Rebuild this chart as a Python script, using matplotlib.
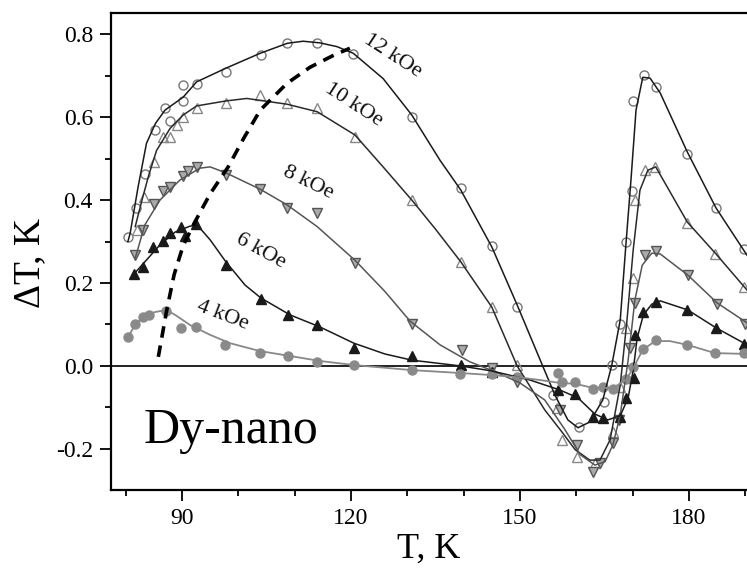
import matplotlib
matplotlib.use("Agg")
import matplotlib.pyplot as plt
from matplotlib.ticker import MultipleLocator

plt.rcParams['font.family'] = ['Liberation Serif', 'DejaVu Serif']

# measured points (markers)
t12 = [80.5, 81.8, 83.4, 85.2, 87.0, 87.8, 90.2, 90.1, 92.6, 97.8, 104.0, 108.7, 113.9, 120.4, 130.8, 139.5,
       145.0, 149.5, 155.9, 160.4, 164.9, 166.3, 167.8, 168.8, 169.8, 170.1, 172.1, 174.2, 179.7, 184.8, 189.8]
d12 = [0.310, 0.381, 0.463, 0.570, 0.621, 0.591, 0.639, 0.677, 0.681, 0.709, 0.749, 0.779, 0.779, 0.752, 0.601, 0.430,
       0.290, 0.141, -0.070, -0.148, -0.086, 0.002, 0.101, 0.300, 0.422, 0.639, 0.701, 0.672, 0.510, 0.380, 0.281]

t10 = [82.1, 83.3, 85.0, 86.7, 87.8, 89.1, 90.1, 92.6, 97.8, 103.9, 108.7, 114.0, 120.7, 130.8, 139.5, 145.0,
       149.4, 156.5, 157.4, 160.2, 163.3, 166.5, 167.8, 168.9, 170.1, 170.4, 172.2, 174.0, 179.6, 184.6, 189.7]
d10 = [0.328, 0.408, 0.492, 0.553, 0.553, 0.581, 0.601, 0.623, 0.633, 0.653, 0.633, 0.623, 0.553, 0.400, 0.251, 0.143,
       0.002, -0.102, -0.178, -0.219, -0.235, -0.160, -0.050, 0.091, 0.211, 0.400, 0.472, 0.480, 0.344, 0.270, 0.191]

t8 = [81.7, 83.1, 85.0, 86.7, 87.9, 90.2, 91.1, 92.6, 97.9, 103.9, 108.7, 114.0, 120.7, 130.8, 139.7, 145.1,
      149.5, 157.1, 160.1, 162.9, 164.2, 166.6, 167.6, 169.5, 170.4, 172.2, 174.2, 179.9, 184.9, 190.0]
d8 = [0.267, 0.329, 0.390, 0.422, 0.431, 0.459, 0.471, 0.480, 0.460, 0.426, 0.380, 0.368, 0.249, 0.101, 0.039, -0.006,
      -0.038, -0.106, -0.190, -0.255, -0.235, -0.186, -0.130, 0.043, 0.151, 0.267, 0.278, 0.219, 0.149, 0.101]

t6 = [81.4, 83.1, 84.9, 86.7, 87.9, 89.8, 90.5, 92.5, 97.8, 104.0, 108.9, 114.0, 120.6, 130.8, 139.5, 145.0,
      156.8, 159.8, 163.0, 164.7, 167.8, 168.9, 170.2, 170.4, 171.9, 174.2, 179.7, 184.8, 189.8]
d6 = [0.222, 0.239, 0.288, 0.302, 0.320, 0.334, 0.313, 0.342, 0.243, 0.161, 0.123, 0.099, 0.043, 0.024, 0.002, -0.014,
      -0.058, -0.068, -0.122, -0.126, -0.122, -0.078, -0.030, 0.075, 0.131, 0.155, 0.135, 0.091, 0.052]

t4 = [80.5, 81.7, 83.0, 84.2, 87.2, 89.8, 92.5, 97.6, 103.9, 108.8, 114.0, 120.6, 130.8, 139.4, 145.0, 149.4,
      156.8, 157.4, 159.7, 162.9, 164.7, 166.5, 168.8, 170.1, 171.9, 174.2, 179.6, 184.6, 189.7]
d4 = [0.071, 0.101, 0.119, 0.123, 0.133, 0.091, 0.093, 0.051, 0.031, 0.023, 0.010, 0.002, -0.010, -0.019, -0.019, -0.027,
      -0.018, -0.038, -0.038, -0.056, -0.051, -0.056, -0.032, -0.002, 0.040, 0.063, 0.051, 0.031, 0.031]

# fitted curves
ft12 = [80.4, 80.8, 82.2, 83.7, 85.3, 87.0, 90.2, 92.6, 97.8, 103.9, 108.7, 111.5, 114.5, 117.5, 120.4, 125.7, 130.8,
        135.8, 139.5, 145.0, 149.5, 153.6, 156.2, 158.5, 160.3, 162.4, 164.7, 166.3, 167.8, 168.8, 169.7, 170.6,
        171.8, 173.1, 174.9, 179.7, 184.8, 190.3]
fd12 = [0.300, 0.320, 0.431, 0.537, 0.585, 0.617, 0.648, 0.685, 0.718, 0.754, 0.778, 0.783, 0.779, 0.770, 0.754, 0.693,
        0.605, 0.496, 0.424, 0.287, 0.147, 0.014, -0.070, -0.130, -0.149, -0.135, -0.082, 0.002, 0.111, 0.292, 0.448,
        0.617, 0.696, 0.694, 0.658, 0.516, 0.381, 0.267]

ft10 = [81.7, 82.9, 84.1, 85.5, 87.9, 90.2, 92.6, 97.8, 101.5, 108.7, 114.0, 120.7, 125.7, 130.8, 135.0, 139.5, 145.0,
        149.5, 154.4, 157.5, 159.8, 162.4, 164.2, 166.0, 167.8, 169.0, 170.1, 171.3, 172.7, 174.1, 179.7, 184.8, 190.3]
fd10 = [0.336, 0.400, 0.460, 0.520, 0.573, 0.605, 0.627, 0.639, 0.645, 0.631, 0.613, 0.557, 0.480, 0.400, 0.330, 0.251,
        0.142, 0.000, -0.106, -0.160, -0.202, -0.227, -0.227, -0.178, -0.046, 0.111, 0.280, 0.424, 0.472, 0.480, 0.347,
        0.270, 0.183]

ft8 = [81.7, 83.4, 86.1, 89.6, 93.2, 95.0, 97.9, 103.9, 108.7, 114.0, 120.7, 126.0, 130.5, 135.8, 141.1, 145.6, 150.0,
       154.4, 158.0, 160.7, 163.3, 165.1, 166.5, 167.8, 169.2, 170.4, 171.7, 173.4, 174.9, 179.8, 185.0, 190.3]
fd8 = [0.260, 0.340, 0.400, 0.448, 0.477, 0.480, 0.465, 0.426, 0.388, 0.336, 0.255, 0.180, 0.108, 0.051, 0.010, -0.014,
       -0.041, -0.082, -0.154, -0.214, -0.239, -0.231, -0.190, -0.118, 0.014, 0.159, 0.243, 0.272, 0.270, 0.219, 0.152,
       0.104]

ft6 = [81.3, 83.4, 86.1, 88.8, 91.4, 92.7, 95.0, 97.8, 101.2, 104.0, 109.2, 114.5, 120.5, 126.0, 130.8, 139.5, 145.0,
       151.8, 157.1, 160.3, 163.3, 165.6, 167.8, 169.2, 170.1, 170.8, 171.9, 173.4, 174.9, 179.8, 184.8, 190.3]
fd6 = [0.219, 0.251, 0.292, 0.323, 0.337, 0.340, 0.304, 0.251, 0.195, 0.164, 0.123, 0.094, 0.055, 0.029, 0.014, 0.000,
       -0.012, -0.034, -0.058, -0.077, -0.116, -0.130, -0.120, -0.077, -0.010, 0.067, 0.123, 0.149, 0.157, 0.135, 0.092,
       0.051]

ft4 = [80.4, 81.7, 83.1, 85.2, 87.2, 88.8, 91.4, 95.0, 98.5, 103.8, 109.2, 114.5, 120.7, 130.8, 139.4, 145.0, 149.5,
       153.6, 157.1, 159.8, 163.0, 164.7, 166.5, 168.8, 170.1, 171.8, 174.0, 176.6, 179.7, 184.6, 190.3]
fd4 = [0.070, 0.099, 0.118, 0.130, 0.135, 0.123, 0.099, 0.075, 0.055, 0.036, 0.024, 0.012, 0.002, -0.010, -0.017, -0.022,
       -0.027, -0.034, -0.041, -0.043, -0.053, -0.053, -0.053, -0.034, -0.005, 0.039, 0.060, 0.060, 0.051, 0.031, 0.029]

# dashed line through the maxima
tpeak = [85.8, 87.3, 88.6, 90.2, 92.2, 95.0, 98.2, 101.0, 103.9, 108.6, 112.7, 116.9, 119.8]
dpeak = [0.022, 0.135, 0.220, 0.290, 0.345, 0.415, 0.480, 0.550, 0.617, 0.681, 0.720, 0.749, 0.766]

fig = plt.figure(figsize=(7.47, 5.71), dpi=100)
ax = fig.add_axes([0.1486, 0.1419, 0.8514, 0.8353])

ax.axhline(0, color='#222222', lw=1.4, zorder=1)

ms = 6.5
ax.plot(ft12, fd12, color='#1a1a1a', lw=1.1, zorder=3)
ax.plot(t12, d12, 'o', ms=ms, mfc='none', mec='#777777', mew=1.0, zorder=2)

ax.plot(ft10, fd10, color='#2a2a2a', lw=1.1, zorder=3)
ax.plot(t10, d10, '^', ms=ms + 0.5, mfc='none', mec='#888888', mew=1.0, zorder=2)

ax.plot(ft8, fd8, color='#555555', lw=1.1, zorder=3)
ax.plot(t8, d8, 'v', ms=ms + 0.5, mfc='#aaaaaa', mec='#555555', mew=1.0, zorder=2)

ax.plot(ft6, fd6, color='#1a1a1a', lw=1.1, zorder=3)
ax.plot(t6, d6, '^', ms=ms + 0.5, mfc='#1a1a1a', mec='#1a1a1a', zorder=2)

ax.plot(ft4, fd4, color='#888888', lw=1.3, zorder=3)
ax.plot(t4, d4, 'o', ms=ms, mfc='#8a8a8a', mec='#8a8a8a', zorder=2)

ax.plot(tpeak, dpeak, color='black', lw=2.6, ls=(0, (3.2, 2.2)), zorder=4)

lbl_kw = dict(fontsize=16, ha='center', va='center', color='#111111')
ax.text(127.3, 0.747, '12 kOe', rotation=-33, **lbl_kw)
ax.text(120.4, 0.629, '10 kOe', rotation=-33, **lbl_kw)
ax.text(112.4, 0.443, '8 kOe', rotation=-26, **lbl_kw)
ax.text(104.0, 0.277, '6 kOe', rotation=-29, **lbl_kw)
ax.text(97.3, 0.121, '4 kOe', rotation=-21, **lbl_kw)

ax.text(83.1, -0.186, 'Dy-nano', fontsize=36, ha='left', va='baseline')

ax.set_xlim(77.4, 190.3)
ax.set_ylim(-0.299, 0.851)
ax.xaxis.set_major_locator(MultipleLocator(30))
ax.xaxis.set_minor_locator(MultipleLocator(10))
ax.yaxis.set_major_locator(MultipleLocator(0.2))
ax.yaxis.set_minor_locator(MultipleLocator(0.1))
ax.yaxis.set_major_formatter(plt.FuncFormatter(lambda v, p: f'{v:.1f}'.replace('\u2212', '-')))

for s in ['left', 'top', 'bottom']:
    ax.spines[s].set_linewidth(1.6)
ax.spines['right'].set_visible(False)

ax.tick_params(which='major', direction='out', length=8, width=1.3, labelsize=17, pad=5)
ax.tick_params(which='minor', direction='out', length=4.5, width=1.3)
ax.tick_params(top=False, right=False)

ax.set_xlabel('T, K', fontsize=26, labelpad=3)
ax.set_ylabel('\u0394T, K', fontsize=27, labelpad=6)
ax.yaxis.label.set_y(0.475)

fig.savefig('out.png', dpi=100)
